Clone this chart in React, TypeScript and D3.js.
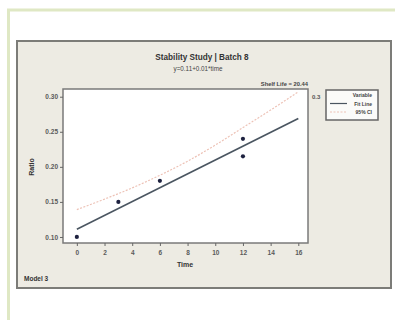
import React, { useEffect, useRef } from "react";
import * as d3 from "d3";

// observed stability data
const times = [0, 3, 6, 12, 12];
const ratios = [0.1, 0.15, 0.18, 0.24, 0.215];

// fitted line
const fitTimes = [0, 16];
const fitRatios = [0.111, 0.269];

// upper 95% CI
const ciTimes = [0, 2, 4, 6, 8, 10, 12, 14, 16];
const ciRatios = [0.139, 0.154, 0.17, 0.188, 0.208, 0.231, 0.256, 0.281, 0.307];

const xTicks = [0, 2, 4, 6, 8, 10, 12, 14, 16];
const yTicks = [0.1, 0.15, 0.2, 0.25, 0.3];

const legendLabels = ["Variable", "Fit Line", "95% CI"];

const W = 395;
const H = 320;
const font = "'Liberation Sans', Arial, sans-serif";

export default function App() {
  const ref = useRef<SVGSVGElement>(null);

  useEffect(() => {
    const svg = d3.select(ref.current);
    svg.selectAll("*").remove();

    const plot = { left: 63, right: 308, top: 89, bottom: 243 };

    const x = d3.scaleLinear().domain([-1, 16.7]).range([plot.left, plot.right]);
    const y = d3.scaleLinear().domain([0.0914, 0.311]).range([plot.bottom, plot.top]);

    svg.append("rect").attr("width", W).attr("height", H).attr("fill", "#fff");

    // greenish frame of the page
    svg.append("line")
      .attr("x1", 7).attr("x2", W).attr("y1", 10).attr("y2", 10)
      .attr("stroke", "#dfe8c4").attr("stroke-width", 3);
    svg.append("line")
      .attr("x1", 8.5).attr("x2", 8.5).attr("y1", 10).attr("y2", H)
      .attr("stroke", "#dfe8c4").attr("stroke-width", 3);

    // grey minitab panel
    svg.append("rect")
      .attr("x", 17).attr("y", 41).attr("width", 374).attr("height", 247)
      .attr("fill", "#edebe3").attr("stroke", "#7c7c78").attr("stroke-width", 2);

    svg.append("text")
      .attr("x", 202).attr("y", 60)
      .attr("text-anchor", "middle")
      .attr("font-family", font).attr("font-size", 8.2).attr("font-weight", "bold")
      .attr("fill", "#333")
      .text("Stability Study | Batch 8");
    svg.append("text")
      .attr("x", 198).attr("y", 70.5)
      .attr("text-anchor", "middle")
      .attr("font-family", font).attr("font-size", 6.3)
      .attr("fill", "#444")
      .text("y=0.11+0.01*time");

    // plot area
    svg.append("rect")
      .attr("x", plot.left).attr("y", plot.top)
      .attr("width", plot.right - plot.left).attr("height", plot.bottom - plot.top)
      .attr("fill", "#fff").attr("stroke", "#7a7a7a").attr("stroke-width", 1.5);

    const xAxis = svg.append("g")
      .attr("transform", `translate(0,${plot.bottom})`)
      .call(d3.axisBottom(x).tickValues(xTicks).tickSize(3).tickPadding(4).tickSizeOuter(0));
    const yAxis = svg.append("g")
      .attr("transform", `translate(${plot.left},0)`)
      .call(d3.axisLeft(y).tickValues(yTicks).tickFormat(d3.format(".2f")).tickSize(3).tickPadding(2).tickSizeOuter(0));

    [xAxis, yAxis].forEach(g => {
      g.select(".domain").remove();
      g.selectAll("line").attr("stroke", "#666");
      g.selectAll("text")
        .attr("font-family", font).attr("font-size", 6.5).attr("font-weight", "bold")
        .attr("fill", "#5a5a5a");
    });

    svg.append("text")
      .attr("x", 185).attr("y", 267)
      .attr("text-anchor", "middle")
      .attr("font-family", font).attr("font-size", 7).attr("font-weight", "bold")
      .attr("fill", "#333")
      .text("Time");
    svg.append("text")
      .attr("transform", `translate(34,167) rotate(-90)`)
      .attr("text-anchor", "middle")
      .attr("font-family", font).attr("font-size", 7).attr("font-weight", "bold")
      .attr("fill", "#333")
      .text("Ratio");

    // upper CI
    const ci = ciTimes.map((t, i) => [t, ciRatios[i]] as [number, number]);
    svg.append("path")
      .attr("d", d3.line().x(d => x(d[0])).y(d => y(d[1])).curve(d3.curveMonotoneX)(ci))
      .attr("fill", "none")
      .attr("stroke", "#edc2b6")
      .attr("stroke-width", 1.2)
      .attr("stroke-dasharray", "2,1.5");

    // fit line
    const fit = fitTimes.map((t, i) => [t, fitRatios[i]] as [number, number]);
    svg.append("path")
      .attr("d", d3.line().x(d => x(d[0])).y(d => y(d[1]))(fit))
      .attr("fill", "none")
      .attr("stroke", "#4a5560")
      .attr("stroke-width", 1.6);

    svg.append("g")
      .selectAll("circle")
      .data(times)
      .join("circle")
      .attr("cx", d => x(d))
      .attr("cy", (d, i) => y(ratios[i]))
      .attr("r", 2.1)
      .attr("fill", "#1e2240");

    svg.append("text")
      .attr("x", plot.right).attr("y", 86)
      .attr("text-anchor", "end")
      .attr("font-family", font).attr("font-size", 5.8).attr("font-weight", "bold")
      .attr("fill", "#444")
      .text("Shelf Life = 20.44");
    svg.append("text")
      .attr("x", 312).attr("y", y(0.3) + 2)
      .attr("font-family", font).attr("font-size", 6).attr("font-weight", "bold")
      .attr("fill", "#555")
      .text("0.3");

    // legend
    const lg = svg.append("g");
    lg.append("rect")
      .attr("x", 326).attr("y", 90).attr("width", 52).attr("height", 30)
      .attr("fill", "#fbfbf9").attr("stroke", "#666").attr("stroke-width", 1.5);
    lg.selectAll("text")
      .data(legendLabels)
      .join("text")
      .attr("x", 372)
      .attr("y", (d, i) => 97 + i * 8.5)
      .attr("text-anchor", "end")
      .attr("font-family", font).attr("font-size", 5).attr("font-weight", "bold")
      .attr("fill", "#444")
      .text(d => d);
    lg.append("line")
      .attr("x1", 330).attr("x2", 347).attr("y1", 103.5).attr("y2", 103.5)
      .attr("stroke", "#4a5560").attr("stroke-width", 1.2);
    lg.append("line")
      .attr("x1", 330).attr("x2", 347).attr("y1", 112).attr("y2", 112)
      .attr("stroke", "#edc2b6").attr("stroke-width", 1).attr("stroke-dasharray", "2,1.5");

    svg.append("text")
      .attr("x", 24).attr("y", 281)
      .attr("font-family", font).attr("font-size", 6.5).attr("font-weight", "bold")
      .attr("fill", "#333")
      .text("Model 3");
  }, []);

  return (
    <svg
      ref={ref}
      width={W}
      height={H}
      style={{ position: "absolute", left: 0, top: 0, display: "block" }}
    />
  );
}
